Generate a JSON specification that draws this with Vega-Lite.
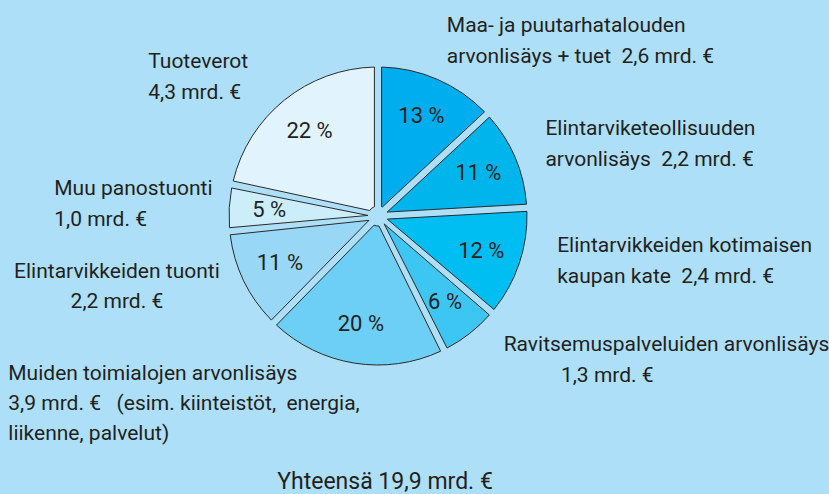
{
  "$schema": "https://vega.github.io/schema/vega-lite/v6.json",
  "width": 756,
  "height": 432,
  "autosize": {"type": "none"},
  "padding": {"left": 0, "top": 0, "right": 73, "bottom": 62},
  "background": "#ade0f8",
  "config": {
    "view": {"stroke": null},
    "text": {"font": "Roboto", "fontSize": 21, "color": "#231f20", "lineBreak": "\n", "lineHeight": 31}
  },
  "data": {
    "values": [
      {"n": 1, "cat": "Maa- ja puutarhatalous", "value": 2.6, "pct": "13 %", "label": "Maa- ja puutarhatalouden\narvonlisäys + tuet\u00a0 2,6 mrd. €"},
      {"n": 2, "cat": "Elintarviketeollisuus", "value": 2.2, "pct": "11 %", "label": "Elintarviketeollisuuden\narvonlisäys\u00a0 2,2 mrd. €"},
      {"n": 3, "cat": "Kaupan kate", "value": 2.4, "pct": "12 %", "label": "Elintarvikkeiden kotimaisen\nkaupan kate\u00a0 2,4 mrd. €"},
      {"n": 4, "cat": "Ravitsemuspalvelut", "value": 1.3, "pct": "6 %", "label": "Ravitsemuspalveluiden arvonlisäys\n\u200b\u00a0\u00a0\u00a0\u00a0\u00a0\u00a0\u00a0\u00a0\u00a0\u00a0\u00a01,3 mrd. €"},
      {"n": 5, "cat": "Muut toimialat", "value": 3.9, "pct": "20 %", "label": "Muiden toimialojen arvonlisäys\n3,9 mrd. €\u00a0\u00a0 (esim. kiinteistöt,\u00a0 energia,\nliikenne, palvelut)"},
      {"n": 6, "cat": "Elintarvikkeiden tuonti", "value": 2.2, "pct": "11 %", "label": "Elintarvikkeiden tuonti\n2,2 mrd. €"},
      {"n": 7, "cat": "Muu panostuonti", "value": 1.0, "pct": "5 %", "label": "Muu panostuonti\n1,0 mrd. €"},
      {"n": 8, "cat": "Tuoteverot", "value": 4.3, "pct": "22 %", "label": "Tuoteverot\n4,3 mrd. €"}
    ]
  },
  "layer": [
    {
      "encoding": {
        "theta": {"field": "value", "type": "quantitative", "stack": true},
        "order": {"field": "n", "type": "quantitative"},
        "detail": {"field": "cat", "type": "nominal"}
      },
      "layer": [
        {
          "mark": {"type": "arc", "outerRadius": 149, "innerRadius": 10, "padAngle": 0.048, "stroke": "#2a2a2a", "strokeWidth": 1},
          "encoding": {
            "color": {
              "field": "cat",
              "type": "nominal",
              "scale": {
                "domain": ["Maa- ja puutarhatalous", "Elintarviketeollisuus", "Kaupan kate", "Ravitsemuspalvelut", "Muut toimialat", "Elintarvikkeiden tuonti", "Muu panostuonti", "Tuoteverot"],
                "range": ["#00aeef", "#00b4ec", "#00bdf2", "#3ec6f3", "#6dcff6", "#98d8f6", "#cceefb", "#e1f3fd"]
              },
              "legend": null
            }
          }
        },
        {
          "mark": {"type": "text", "radius": 109, "align": "center", "baseline": "middle", "fontSize": 22},
          "encoding": {"text": {"field": "pct"}}
        },
        {
          "mark": {"type": "text", "radius": 170, "align": "left", "baseline": "alphabetic", "dx": 1, "dy": -28},
          "encoding": {"text": {"condition": {"test": "datum.n === 1", "field": "label"}, "value": ""}}
        },
        {
          "mark": {"type": "text", "radius": 170, "align": "left", "baseline": "alphabetic", "dx": 11, "dy": -14},
          "encoding": {"text": {"condition": {"test": "datum.n === 2", "field": "label"}, "value": ""}}
        },
        {
          "mark": {"type": "text", "radius": 170, "align": "left", "baseline": "alphabetic", "dx": 18, "dy": -18},
          "encoding": {"text": {"condition": {"test": "datum.n === 3", "field": "label"}, "value": ""}}
        },
        {
          "mark": {"type": "text", "radius": 170, "align": "left", "baseline": "alphabetic", "dx": 21, "dy": 1},
          "encoding": {"text": {"condition": {"test": "datum.n === 4", "field": "label"}, "value": ""}}
        },
        {
          "mark": {"type": "text", "radius": 170, "align": "left", "baseline": "alphabetic", "dx": -343, "dy": -4, "lineHeight": 30},
          "encoding": {"text": {"condition": {"test": "datum.n === 5", "field": "label"}, "value": ""}}
        },
        {
          "mark": {"type": "text", "radius": 170, "align": "center", "baseline": "alphabetic", "dx": -108, "dy": -12, "lineHeight": 30},
          "encoding": {"text": {"condition": {"test": "datum.n === 6", "field": "label"}, "value": ""}}
        },
        {
          "mark": {"type": "text", "radius": 170, "align": "left", "baseline": "alphabetic", "dx": -154, "dy": -12},
          "encoding": {"text": {"condition": {"test": "datum.n === 7", "field": "label"}, "value": ""}}
        },
        {
          "mark": {"type": "text", "radius": 170, "align": "left", "baseline": "alphabetic", "dx": -123, "dy": -16},
          "encoding": {"text": {"condition": {"test": "datum.n === 8", "field": "label"}, "value": ""}}
        }
      ]
    },
    {
      "data": {"values": [{"t": "Yhteensä 19,9 mrd. €"}]},
      "mark": {"type": "text", "align": "center", "baseline": "alphabetic", "dx": 7, "dy": 273, "fontSize": 23},
      "encoding": {"text": {"field": "t"}}
    }
  ]
}
